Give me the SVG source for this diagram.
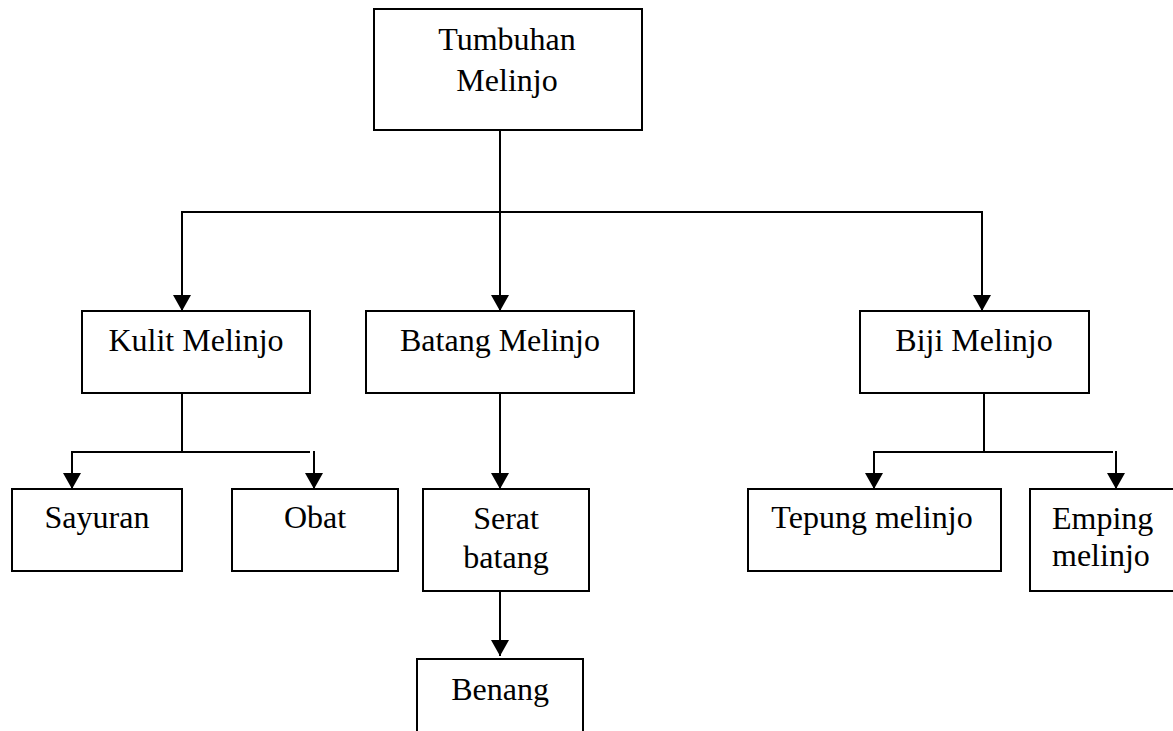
<svg xmlns="http://www.w3.org/2000/svg" width="1173" height="731" viewBox="0 0 1173 731">
<style>
.box{fill:#fff;stroke:#000;stroke-width:2}
.t{font-family:"Liberation Serif","Times New Roman",serif;font-size:32px;fill:#000}
.c{text-anchor:middle}
.ln{fill:none;stroke:#000;stroke-width:2}
.ar{fill:none;stroke:#000;stroke-width:2;marker-end:url(#ah)}
</style>
<defs>
<marker id="ah" markerUnits="userSpaceOnUse" markerWidth="17" markerHeight="18" refX="16" refY="9" orient="auto" viewBox="0 0 17 18">
<path d="M0,0 L16,9 L0,18 z" fill="#000"/>
</marker>
</defs>
<rect width="1173" height="731" fill="#fff"/>
<g id="connectors">
<line class="ln" x1="500" y1="130" x2="500" y2="212"/>
<line class="ln" x1="181" y1="212" x2="983" y2="212"/>
<line class="ar" x1="182" y1="212" x2="182" y2="311"/>
<line class="ar" x1="500" y1="212" x2="500" y2="311"/>
<line class="ar" x1="982" y1="212" x2="982" y2="311"/>
<line class="ln" x1="182" y1="393" x2="182" y2="452"/>
<line class="ln" x1="71" y1="452" x2="310" y2="452"/>
<line class="ar" x1="72" y1="452" x2="72" y2="489"/>
<line class="ar" x1="314" y1="451" x2="314" y2="489"/>
<line class="ar" x1="500" y1="393" x2="500" y2="489"/>
<line class="ar" x1="500" y1="591" x2="500" y2="656"/>
<line class="ln" x1="984" y1="393" x2="984" y2="452"/>
<line class="ln" x1="873" y1="452" x2="1113" y2="452"/>
<line class="ar" x1="874" y1="452" x2="874" y2="489"/>
<line class="ar" x1="1116" y1="451" x2="1116" y2="489"/>
</g>
<g id="tumbuhan">
<rect class="box" x="374" y="9" width="268" height="121"/>
<text class="t c" x="507" y="50">Tumbuhan</text>
<text class="t c" x="507" y="91">Melinjo</text>
</g>
<g id="kulit">
<rect class="box" x="82" y="311" width="228" height="82"/>
<text class="t c" x="196" y="351">Kulit Melinjo</text>
</g>
<g id="batang">
<rect class="box" x="366" y="311" width="268" height="82"/>
<text class="t c" x="500" y="351">Batang Melinjo</text>
</g>
<g id="biji">
<rect class="box" x="860" y="311" width="229" height="82"/>
<text class="t c" x="974" y="351">Biji Melinjo</text>
</g>
<g id="sayuran">
<rect class="box" x="12" y="489" width="170" height="82"/>
<text class="t c" x="97" y="528">Sayuran</text>
</g>
<g id="obat">
<rect class="box" x="232" y="489" width="166" height="82"/>
<text class="t c" x="315" y="528">Obat</text>
</g>
<g id="serat">
<rect class="box" x="423" y="489" width="166" height="102"/>
<text class="t c" x="506" y="529">Serat</text>
<text class="t c" x="506" y="568">batang</text>
</g>
<g id="benang">
<path class="box" d="M417,735 L417,659 L583,659 L583,735"/>
<text class="t c" x="500" y="700">Benang</text>
</g>
<g id="tepung">
<rect class="box" x="748" y="489" width="253" height="82"/>
<text class="t c" x="872" y="528">Tepung melinjo</text>
</g>
<g id="emping">
<path class="box" d="M1175,489 L1030,489 L1030,591 L1175,591"/>
<text class="t" x="1052" y="529">Emping</text>
<text class="t" x="1052" y="566">melinjo</text>
</g>
</svg>
